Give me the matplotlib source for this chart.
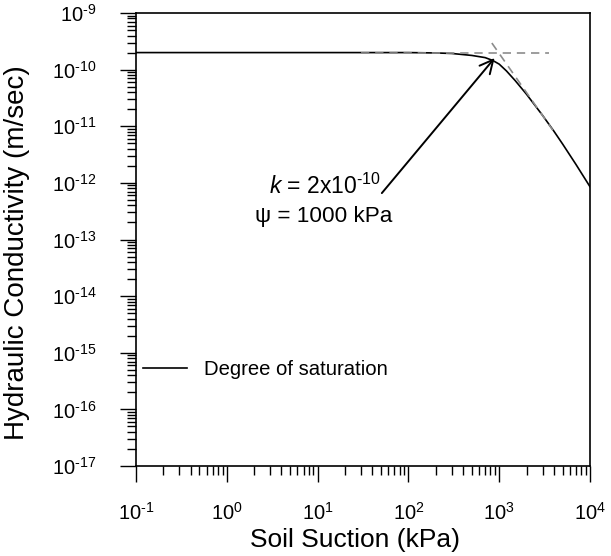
import matplotlib
matplotlib.use("Agg")
import matplotlib.pyplot as plt
import numpy as np

plt.rcParams['font.family'] = ['Liberation Sans', 'DejaVu Sans']
plt.rcParams['mathtext.fontset'] = 'custom'
plt.rcParams['mathtext.rm'] = 'Liberation Sans'
plt.rcParams['mathtext.it'] = 'Liberation Sans:italic'
plt.rcParams['mathtext.bf'] = 'Liberation Sans:bold'

# Data
suction = [0.1, 1, 10, 100, 200, 300, 500, 700, 850, 1000, 1200, 1500, 2000, 3000,
           4000, 5000, 7000, 10000]
conductivity = [2e-10, 2e-10, 2e-10, 2e-10, 1.97e-10, 1.93e-10, 1.78e-10, 1.63e-10, 1.45e-10,
                1.25e-10, 9.5e-11, 6.4e-11, 3.67e-11, 1.56e-11, 8.2e-12, 4.84e-12,
                2.12e-12, 8.55e-13]
flat_x = [30, 3500]
flat_y = [2e-10, 2e-10]
slope_x = [830, 3900]
slope_y = [2.95e-10, 8.5e-12]
arrow_tail = (51, 6.6e-13)
arrow_tip = (890, 1.6e-10)
xticks = [1e-1, 1e0, 1e1, 1e2, 1e3, 1e4]
xticklabels = [r'$10^{\text{-1}}$', r'$10^{0}$', r'$10^{1}$', r'$10^{2}$', r'$10^{3}$', r'$10^{4}$']
yticks = [1e-17, 1e-16, 1e-15, 1e-14, 1e-13, 1e-12, 1e-11, 1e-10, 1e-9]
yticklabels = [r'$10^{\text{-17}}$', r'$10^{\text{-16}}$', r'$10^{\text{-15}}$',
               r'$10^{\text{-14}}$', r'$10^{\text{-13}}$', r'$10^{\text{-12}}$',
               r'$10^{\text{-11}}$', r'$10^{\text{-10}}$', r'$10^{\text{-9}}$']

fig = plt.figure(figsize=(6.11, 5.56), dpi=100)
ax = fig.add_axes([136/611, (556-466)/556, (590-136)/611, (466-13)/556])

ax.plot(suction, conductivity, color='black', lw=1.2, label='Degree of saturation', zorder=2)
ax.plot(flat_x, flat_y, color='#8c8c8c', lw=1.2, dashes=(5, 3.5), zorder=3)
ax.plot(slope_x, slope_y, color='#8c8c8c', lw=1.2, dashes=(5, 3.5), zorder=3)

ax.set_xscale('log')
ax.set_yscale('log')
ax.set_xlim(1e-1, 1e4)
ax.set_ylim(1e-17, 1e-9)
ax.set_xticks(xticks)
ax.set_xticklabels(xticklabels)
ax.set_yticks(yticks)
ax.set_yticklabels(yticklabels)
ax.xaxis.set_minor_locator(matplotlib.ticker.LogLocator(base=10, subs=np.arange(2, 10)))
ax.yaxis.set_minor_locator(matplotlib.ticker.LogLocator(base=10, subs=np.arange(2, 10)))
ax.xaxis.set_minor_formatter(matplotlib.ticker.NullFormatter())
ax.yaxis.set_minor_formatter(matplotlib.ticker.NullFormatter())

ax.tick_params(which='major', direction='out', length=11.5, width=1.0, labelsize=14.5)
ax.tick_params(axis='x', which='major', pad=14)
ax.tick_params(axis='y', which='major', pad=17)
ax.tick_params(which='minor', direction='out', length=6.5, width=1.0)
ax.tick_params(top=False, right=False, which='both')
for s in ax.spines.values():
    s.set_linewidth(1.2)

ax.set_xlabel('Soil Suction (kPa)', fontsize=19)
ax.xaxis.set_label_coords((355 - 136) / 454, -(540 - 466) / 453, transform=ax.transAxes)
ax.xaxis.label.set_va('center')
ax.set_ylabel('Hydraulic Conductivity (m/sec)', fontsize=20)
ax.yaxis.set_label_coords(-(136 - 17) / 454, (466 - 253) / 453, transform=ax.transAxes)
ax.yaxis.label.set_va('center')

ax.annotate('', xy=arrow_tip, xytext=arrow_tail,
            arrowprops=dict(arrowstyle='->', color='black', lw=1.4, mutation_scale=24,
                            shrinkA=0, shrinkB=0))
ax.text(arrow_tail[0] * 0.97, arrow_tail[1] * 0.95, '$k$ = 2x10$^{\\text{-10}}$', fontsize=16.5,
        ha='right', va='baseline')
ax.text(arrow_tail[0] * 1.3, arrow_tail[1] * 0.31, 'ψ = 1000 kPa', fontsize=16.2,
        ha='right', va='baseline')

leg = ax.legend(loc='center left', bbox_to_anchor=(0.006, 0.212), frameon=False, fontsize=14.6,
                handlelength=2.2, handletextpad=0.8, borderaxespad=0, borderpad=0.2)

fig.savefig('out.png', dpi=100)
